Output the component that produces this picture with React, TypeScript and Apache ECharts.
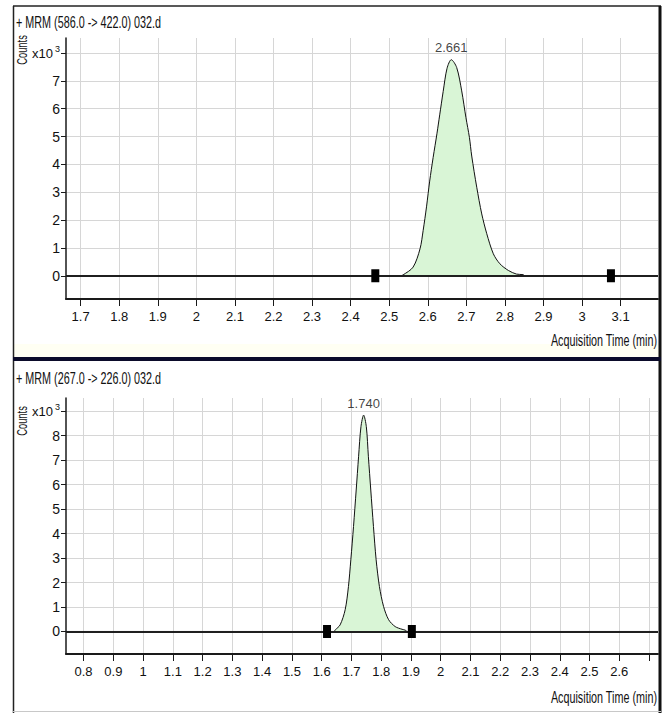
import React, { useEffect, useRef } from "react";
import * as echarts from "echarts";

// ---------- data ----------
const title1 = "+ MRM (586.0 -> 422.0) 032.d";
const title2 = "+ MRM (267.0 -> 226.0) 032.d";
const yAxisTitle = "Counts";
const xAxisTitle = "Acquisition Time (min)";

// panel 1 trace (time in min, counts x10^3)
const trace1Time = [1.662, 2.53, 2.536, 2.562, 2.58, 2.588, 2.597, 2.605, 2.614, 2.624, 2.631, 2.64, 2.65, 2.661, 2.675, 2.688, 2.699, 2.708, 2.714, 2.727, 2.74, 2.753, 2.77, 2.787, 2.809, 2.83, 2.847, 2.852, 3.197];
const trace1Counts = [0, 0, 0.03, 0.31, 0.97, 1.62, 2.5, 3.4, 4.25, 5.12, 5.78, 6.62, 7.45, 7.76, 7.48, 6.64, 5.68, 4.97, 4.3, 3.18, 2.22, 1.51, 0.79, 0.43, 0.19, 0.06, 0.04, 0, 0];
const markers1 = [2.464, 3.075];
const apex1 = { time: 2.661, counts: 7.76, label: "2.661" };
const xTicks1 = [1.7, 1.8, 1.9, 2.0, 2.1, 2.2, 2.3, 2.4, 2.5, 2.6, 2.7, 2.8, 2.9, 3.0, 3.1];
const yTicks1 = [0, 1, 2, 3, 4, 5, 6, 7, 8];
const xRange1 = [1.662, 3.197];
const yRange1 = [-0.835, 8.54];

// panel 2 trace
const trace2Time = [0.741, 1.64, 1.646, 1.662, 1.679, 1.69, 1.698, 1.707, 1.716, 1.724, 1.732, 1.741, 1.75, 1.757, 1.765, 1.774, 1.783, 1.794, 1.808, 1.825, 1.847, 1.87, 1.882, 1.886, 2.73];
const trace2Counts = [0, 0, 0.07, 0.27, 0.89, 1.84, 2.93, 4.29, 5.78, 7.14, 8.37, 8.84, 8.37, 7.14, 5.78, 4.29, 2.93, 1.84, 1.02, 0.48, 0.2, 0.09, 0.05, 0, 0];
const markers2 = [1.618, 1.903];
const apex2 = { time: 1.741, counts: 8.84, label: "1.740" };
const xTicks2 = [0.8, 0.9, 1.0, 1.1, 1.2, 1.3, 1.4, 1.5, 1.6, 1.7, 1.8, 1.9, 2.0, 2.1, 2.2, 2.3, 2.4, 2.5, 2.6, 2.7];
const xLabels2 = [0.8, 0.9, 1.0, 1.1, 1.2, 1.3, 1.4, 1.5, 1.6, 1.7, 1.8, 1.9, 2.0, 2.1, 2.2, 2.3, 2.4, 2.5, 2.6];
const yTicks2 = [0, 1, 2, 3, 4, 5, 6, 7, 8, 9];
const xRange2 = [0.741, 2.73];
const yRange2 = [-0.92, 9.54];

// ---------- styles ----------
const FONT = "'Liberation Sans', Arial, sans-serif";
const TEXT = "#111";
const GRIDLINE = "#d6d6d6";
const FILL = "#d9f5d6";

function zip(a: number[], b: number[]) {
  return a.map((t, i) => [t, b[i]]);
}

function fmtX(v: number) {
  return String(Math.round(v * 10) / 10);
}

function buildAxes(idx: number, xr: number[], yr: number[], xt: number[], xl: number[], yt: number[]) {
  const top = yt[yt.length - 1];
  const x = {
    type: "value",
    gridIndex: idx,
    min: xr[0],
    max: xr[1],
    axisLine: { onZero: false, lineStyle: { color: "#1a1a1a", width: 2 } },
    axisTick: { show: true, length: 7, customValues: xt, lineStyle: { color: "#1a1a1a", width: 1 } },
    axisLabel: {
      customValues: xl,
      formatter: (v: number) => fmtX(v),
      color: TEXT,
      fontFamily: FONT,
      fontSize: 13,
      margin: 11,
    },
    splitLine: { show: true, lineStyle: { color: GRIDLINE, width: 1 } },
  };
  const y = {
    type: "value",
    gridIndex: idx,
    min: yr[0],
    max: yr[1],
    axisLine: { show: true, onZero: false, lineStyle: { color: "#1a1a1a", width: 1.5 } },
    axisTick: { show: true, length: 5, customValues: yt, lineStyle: { color: "#1a1a1a", width: 1 } },
    axisLabel: {
      customValues: yt,
      formatter: (v: number) => (v === top ? "{a|x10}{s|3}" : String(v)),
      color: TEXT,
      fontFamily: FONT,
      fontSize: 14,
      margin: 6,
      rich: {
        a: { fontFamily: FONT, fontSize: 13, color: TEXT },
        s: { fontFamily: FONT, fontSize: 9, color: TEXT, verticalAlign: "top", padding: [0, 0, 9, 2] },
      },
    },
    splitLine: { show: true, lineStyle: { color: GRIDLINE, width: 1 } },
  };
  return { x, y };
}

function buildSeries(idx: number, t: number[], c: number[], markers: number[], apex: { time: number; counts: number; label: string }) {
  return [
    {
      type: "line",
      xAxisIndex: idx,
      yAxisIndex: idx,
      data: zip(t, c),
      showSymbol: false,
      symbol: "none",
      smooth: 0.3,
      lineStyle: { color: "#111", width: 1 },
      areaStyle: { color: FILL, opacity: 1 },
      markLine: {
        silent: true,
        symbol: "none",
        label: { show: false },
        lineStyle: { color: "#1f1f1f", width: 2, type: "solid" },
        data: [{ yAxis: 0 }],
      },
      z: 3,
    },
    {
      type: "scatter",
      xAxisIndex: idx,
      yAxisIndex: idx,
      symbol: "rect",
      symbolSize: [8, 13],
      itemStyle: { color: "#000", opacity: 1 },
      data: markers.map((m) => [m, 0]),
      z: 5,
    },
    {
      type: "scatter",
      xAxisIndex: idx,
      yAxisIndex: idx,
      symbolSize: 1,
      itemStyle: { color: "rgba(0,0,0,0)" },
      label: {
        show: true,
        position: "top",
        distance: 5,
        formatter: apex.label,
        color: TEXT,
        fontFamily: FONT,
        fontSize: 13,
      },
      data: [[apex.time, apex.counts]],
      z: 6,
    },
  ];
}

export default function App() {
  const ref = useRef<HTMLDivElement>(null);
  useEffect(() => {
    document.body.style.margin = "0";
    if (!ref.current) return;
    const chart = echarts.init(ref.current, undefined, { renderer: "svg" });
    const a1 = buildAxes(0, xRange1, yRange1, xTicks1, xTicks1, yTicks1);
    const a2 = buildAxes(1, xRange2, yRange2, xTicks2, xLabels2, yTicks2);
    const textStyle = { fill: TEXT, fontFamily: FONT, fontSize: 15 };
    const narrow = 0.72;
    const tall = 1.15;
    chart.setOption({
      animation: false,
      backgroundColor: "#ffffff",
      grid: [
        { left: 66, right: 10, top: 38, height: 261, outerBoundsMode: "none" },
        { left: 66, right: 10, top: 398, height: 256, outerBoundsMode: "none" },
      ],
      xAxis: [a1.x, a2.x],
      yAxis: [a1.y, a2.y],
      series: [
        ...buildSeries(0, trace1Time, trace1Counts, markers1, apex1),
        ...buildSeries(1, trace2Time, trace2Counts, markers2, apex2),
      ],
      graphic: [
        // pale strip between panels
        { type: "rect", shape: { x: 14, y: 344, width: 646, height: 13 }, style: { fill: "#fffff3" }, z: -1, silent: true },
        // frame lines
        { type: "line", shape: { x1: 13, y1: 6, x2: 661, y2: 6 }, style: { stroke: "#222", lineWidth: 1.5 } },
        { type: "line", shape: { x1: 13.5, y1: 6, x2: 13.5, y2: 713 }, style: { stroke: "#222", lineWidth: 1.5 } },
        { type: "line", shape: { x1: 660, y1: 6, x2: 660, y2: 713 }, style: { stroke: "#111", lineWidth: 3 } },
        { type: "line", shape: { x1: 13, y1: 359, x2: 661, y2: 359 }, style: { stroke: "#0b0b2a", lineWidth: 4 } },
        { type: "line", shape: { x1: 13, y1: 711.5, x2: 661, y2: 711.5 }, style: { stroke: "#c8c8c8", lineWidth: 1 } },
        // titles
        { type: "text", x: 16, y: 22, scaleX: narrow, scaleY: tall, style: { ...textStyle, text: title1, textVerticalAlign: "middle" } },
        { type: "text", x: 16, y: 378, scaleX: narrow, scaleY: tall, style: { ...textStyle, text: title2, textVerticalAlign: "middle" } },
        // Counts
        { type: "text", x: 22, y: 50, rotation: Math.PI / 2, scaleX: narrow, scaleY: tall, style: { ...textStyle, fontSize: 13, text: yAxisTitle, textAlign: "center", textVerticalAlign: "middle" } },
        { type: "text", x: 22, y: 421, rotation: Math.PI / 2, scaleX: narrow, scaleY: tall, style: { ...textStyle, fontSize: 13, text: yAxisTitle, textAlign: "center", textVerticalAlign: "middle" } },
        // x axis titles
        { type: "text", x: 657, y: 340, scaleX: narrow, scaleY: tall, style: { ...textStyle, text: xAxisTitle, textAlign: "right", textVerticalAlign: "middle" } },
        { type: "text", x: 657, y: 697, scaleX: narrow, scaleY: tall, style: { ...textStyle, text: xAxisTitle, textAlign: "right", textVerticalAlign: "middle" } },
      ],
    });
    return () => chart.dispose();
  }, []);
  return <div ref={ref} style={{ width: 668, height: 713 }} />;
}
